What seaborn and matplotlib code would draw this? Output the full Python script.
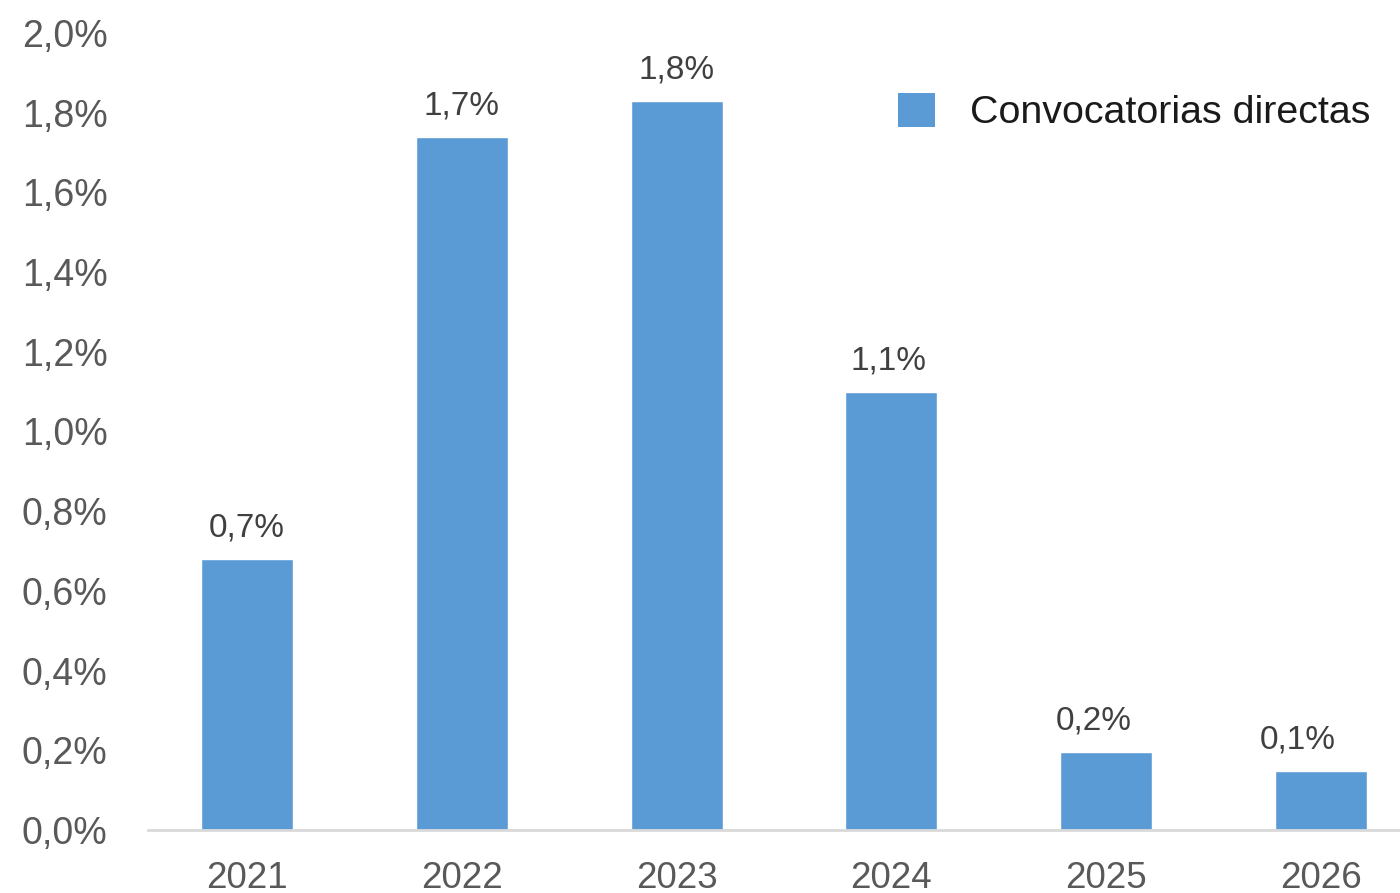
import matplotlib
matplotlib.use("Agg")
import matplotlib.pyplot as plt
import seaborn as sns
import pandas as pd
from matplotlib.patches import Patch

years = ["2021", "2022", "2023", "2024", "2025", "2026"]
values = [0.68, 1.74, 1.83, 1.10, 0.196, 0.148]
value_labels = ["0,7%", "1,7%", "1,8%", "1,1%", "0,2%", "0,1%"]
yticks = [0.0, 0.2, 0.4, 0.6, 0.8, 1.0, 1.2, 1.4, 1.6, 1.8, 2.0]
series_name = "Convocatorias directas"

# horizontal nudges of the value labels (points), as in the original layout
label_nudge = [0, 0, 0, -2, -9, -17]

sns.set_theme(style="white")
plt.rcParams['font.family'] = ['Liberation Sans', 'DejaVu Sans']

bar_color = "#5B9BD5"
df = pd.DataFrame({"year": years, "value": values})

fig = plt.figure(figsize=(14, 8.93), dpi=100)
ax = fig.add_axes([148/1400, 63/893, 1 - 148/1400, (830-33)/893])

sns.barplot(data=df, x="year", y="value", color=bar_color, width=0.428,
            saturation=1, ax=ax)

ax.set_xlim(-0.461, 5.368)
ax.set_ylim(0, 2.0)
ax.set_yticks(yticks)
ax.set_yticklabels([f"{t:.1f}%".replace('.', ',') for t in yticks])
ax.set_xlabel("")
ax.set_ylabel("")

for s in ["top", "right", "left"]:
    ax.spines[s].set_visible(False)
ax.spines["bottom"].set_color("#d9d9d9")
ax.spines["bottom"].set_linewidth(2)

ax.tick_params(axis="y", length=0, pad=29, labelsize=27, labelcolor="#595959")
ax.tick_params(axis="x", length=0, pad=22, labelsize=26.5, labelcolor="#595959")

bars = ax.containers[0]
for rect, lab, dx in zip(bars, value_labels, label_nudge):
    ax.annotate(lab, (rect.get_x() + rect.get_width()/2, rect.get_height()),
                xytext=(dx, 11), textcoords="offset points",
                ha="center", va="bottom", fontsize=24, color="#404040")

handle = Patch(facecolor=bar_color, edgecolor="none", label=series_name)
ax.legend(handles=[handle], loc="center left",
          bbox_to_anchor=(898/1400, 1 - 112/893), bbox_transform=fig.transFigure,
          frameon=False, fontsize=28.4, handlelength=0.94, handleheight=0.94,
          handletextpad=0.88, borderpad=0, borderaxespad=0, labelcolor="#1a1a1a")

fig.savefig("out.png", dpi=100)
